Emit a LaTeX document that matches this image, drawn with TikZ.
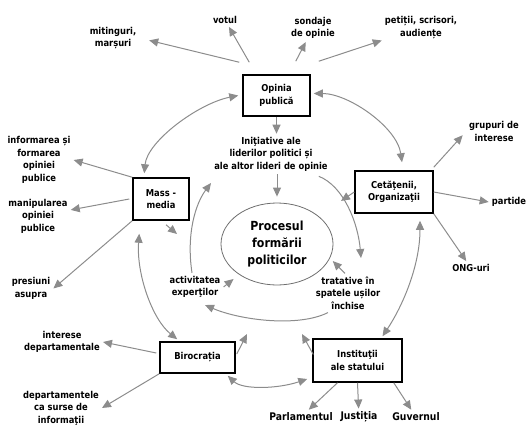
\documentclass[tikz,border=0pt]{standalone}
\usepackage{fontspec}
\setmainfont{DejaVu Sans}[FakeStretch=0.88]
\usepackage{tikz}
\usetikzlibrary{arrows.meta, positioning, calc, shapes.geometric}
\definecolor{flow}{RGB}{140,140,140}
\definecolor{rim}{RGB}{110,110,110}

\begin{document}
\begin{tikzpicture}[x=1pt, y=-1pt,
    actor/.style={draw, line width=1.5pt, align=center, inner sep=2pt, font=\bfseries\fontsize{9.5}{12.5}\selectfont},
    leaf/.style={align=center, inner sep=3pt, font=\bfseries\fontsize{9.5}{12.5}\selectfont},
    bigleaf/.style={leaf, font=\bfseries\fontsize{10.5}{13}\selectfont},
    arr/.style={flow, line width=1pt, -{Triangle[length=9pt,width=8pt]}},
    arrboth/.style={flow, line width=1pt, {Triangle[length=9pt,width=8pt]}-{Triangle[length=9pt,width=8pt]}}]
    \useasboundingbox (0,0) rectangle (532,431);

    % Actors
    \node[actor, minimum width=67pt, minimum height=41pt] (opinia) at (276.5,95.5) {Opinia\\publică};
    \node[actor, minimum width=56pt, minimum height=42pt] (massmedia) at (161,199) {Mass -\\media};
    \node[actor, minimum width=78pt, minimum height=42pt] (cetateni) at (394,192) {Cetăţenii,\\Organizaţii};
    \node[actor, minimum width=75pt, minimum height=31pt] (birocratia) at (197.5,357.5) {Birocrația};
    \node[actor, minimum width=89pt, minimum height=43pt] (institutii) at (357.5,360.5) {Instituţii\\ale statului};
    \node[ellipse, draw=rim, line width=0.8pt, minimum width=112pt, minimum height=82pt, align=center,
          font=\bfseries\fontsize{12.5}{17}\selectfont] (proces) at (277,244) {Procesul\\formării\\politicilor};

    % Leaf labels
    \node[leaf] (mitinguri) at (113,38) {mitinguri,\\marșuri};
    \node[leaf] (votul) at (225,20) {votul};
    \node[leaf] (sondaje) at (313,28) {sondaje\\de opinie};
    \node[leaf] (petitii) at (421,27.5) {petiții, scrisori,\\audiențe};
    \node[leaf] (initiative) at (271,154) {Iniţiative ale\\liderilor politici și\\ale altor lideri de opinie};
    \node[leaf] (grupuri) at (494,131.5) {grupuri de\\interese};
    \node[leaf] (partide) at (509,202) {partide};
    \node[leaf] (ong) at (471,268) {ONG-uri};
    \node[leaf] (tratative) at (348,293) {tratative în\\spatele ușilor\\închise};
    \node[leaf] (activitatea) at (195,287) {activitatea\\experţilor};
    \node[leaf] (informarea) at (39,160) {informarea și\\formarea\\opiniei\\publice};
    \node[leaf] (manipularea) at (38,216) {manipularea\\opiniei\\publice};
    \node[leaf] (presiuni) at (31,288.5) {presiuni\\asupra};
    \node[leaf] (interese) at (62,342) {interese\\departamentale};
    \node[leaf] (departamentele) at (61,408) {departamentele\\ca surse de\\informaţii};
    \node[bigleaf] (parlamentul) at (301,417) {Parlamentul};
    \node[bigleaf] (justitia) at (359,417) {Justiția};
    \node[bigleaf] (guvernul) at (416,417) {Guvernul};

    % Free arrow ends
    \coordinate (mmtip) at (177,234);
    \coordinate (birtip) at (247,334);
    \coordinate (insttip) at (302,334);
    \coordinate (negtip) at (361,258);
    \coordinate (exptip) at (211,183);

    % Arrows out of the actors
    \draw[arr, shorten >=10pt] ([xshift=-3pt,yshift=12pt]opinia.north west) -- (mitinguri.east);
    \draw[arr] ([xshift=7pt,yshift=12pt]opinia.north west) -- (votul);
    \draw[arr] ([xshift=-15pt,yshift=13pt]opinia.north east) -- (sondaje);
    \draw[arr] ([xshift=8pt,yshift=13pt]opinia.north east) -- (petitii);
    \draw[arr] (opinia.south) -- (opinia.south |- initiative.north);
    \draw[arr] (massmedia.north west) -- (informarea.east);
    \draw[arr] ([xshift=-3pt]massmedia.west) -- (manipularea);
    \draw[arr] (massmedia.south west) -- (presiuni.east);
    \draw[arr] ([xshift=5pt,yshift=-4pt]massmedia.south) -- (mmtip);
    \draw[arr, shorten >=5pt] ([yshift=3pt]cetateni.north east) -- (grupuri.west);
    \draw[arr] (cetateni.east) -- (partide.west);
    \draw[arr] (cetateni.south east) -- (ong);
    \draw[arr, shorten >=27pt] (cetateni.west) -- (proces);
    \draw[arr] ([xshift=-3pt,yshift=4.5pt]birocratia.west) -- (interese.east);
    \draw[arr] (birocratia.south west) -- (departamentele.east);
    \draw[arr] ([xshift=1pt,yshift=3.5pt]birocratia.east) -- (birtip);
    \draw[arr] ([xshift=-20pt]institutii.south) -- (parlamentul);
    \draw[arr] (institutii.south) -- (justitia);
    \draw[arr] ([xshift=-9pt]institutii.south east) -- (guvernul);
    \draw[arr] ([xshift=1pt,yshift=6pt]institutii.west) -- (insttip);

    % Arrows into the process
    \draw[arr, shorten >=6pt] (initiative.south -| proces.north) -- (proces.north);
    \draw[arr, shorten >=7pt] (activitatea.east) -- (proces);
    \draw[arr, shorten >=4pt] ([xshift=-3pt]tratative.north) -- (proces.-15);
    \draw[arr] ([xshift=-12pt,yshift=-2pt]initiative.south east) .. controls +(25,10) and +(-3,-35) .. (negtip);
    \draw[arr] ([xshift=-3pt]activitatea.north) .. controls +(-6,-40) and +(-15,20) .. (exptip);
    \draw[arr] ([xshift=-20pt]tratative.south) .. controls +(-30,15) and +(35,15) .. ([xshift=10pt,yshift=-4pt]activitatea.south);

    % Links between the actors
    \draw[arrboth] ([xshift=12pt,yshift=4pt]massmedia.north west) .. controls +(3,-32) and +(-40,8) .. ([xshift=-4pt]opinia.west);
    \draw[arrboth] ([xshift=3pt,yshift=2pt]opinia.east) .. controls +(35,0) and +(-5,-35) .. ([xshift=8pt,yshift=8pt]cetateni.north);
    \draw[arrboth] ([xshift=7pt,yshift=-13pt]massmedia.south west) .. controls +(-3,40) and +(-25,-20) .. ([xshift=18pt,yshift=2pt]birocratia.north west);
    \draw[arrboth] ([xshift=26pt,yshift=-7pt]cetateni.south) .. controls +(0,45) and +(20,-30) .. ([xshift=25pt,yshift=2pt]institutii.north);
    \draw[arrboth] ([xshift=-8pt,yshift=-2pt]birocratia.south east) .. controls +(15,14) and +(-30,10) .. ([xshift=-5pt,yshift=-18.5pt]institutii.west);
\end{tikzpicture}
\end{document}
